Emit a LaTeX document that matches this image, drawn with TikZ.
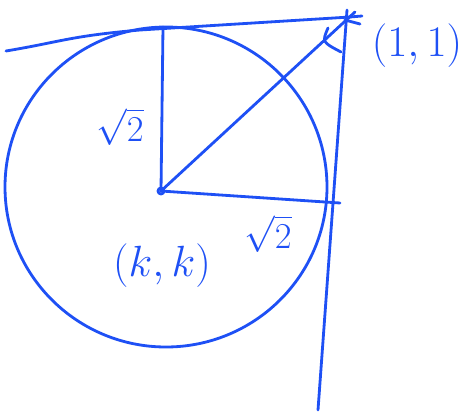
\documentclass[tikz,border=0pt]{standalone}
\usepackage{amsmath,amssymb}
\usepackage{tikz}
\usetikzlibrary{positioning,calc}
\definecolor{penblue}{RGB}{30,80,245}

\begin{document}
\begin{tikzpicture}[x=0.02cm, y=-0.02cm,
  pen/.style={draw=penblue, line width=1.6pt, line cap=round, line join=round},
  lbl/.style={text=penblue, inner sep=0pt, font=\fontsize{20}{22}\selectfont},
  biglbl/.style={text=penblue, inner sep=0pt, font=\fontsize{30}{32}\selectfont}
]
\useasboundingbox (0,0) rectangle (470,413);

% ======= points =======
\coordinate (ctr) at (161,191);
\coordinate (top) at (163,27);
\coordinate (rgt) at (340,203);
\coordinate (crn) at (350,17);
\coordinate (tlft) at (6,51);
\coordinate (vtop) at (347,10);
\coordinate (vbot) at (318,410);

% ======= circle =======
\draw[pen] (166,187) ellipse [x radius=161, y radius=160];

% ======= tangent lines =======
\draw[pen] (tlft) .. controls (60,42) and (70,36) .. (140,30) -- (crn) -- (362,16);
\draw[pen] (vtop) -- (vbot);

% ======= radii =======
\draw[pen] (top) -- (ctr);
\draw[pen] (ctr) -- (rgt);
\draw[pen] (ctr) -- (355,12);
\draw[pen] (ctr) circle [radius=3];
\draw[pen] (345,20) -- (360,24);

% ======= angle mark =======
\draw[pen] (328,28) .. controls (322,42) .. (341,52);

% ======= labels =======
\node[lbl] (r1) at (120,127) {$\sqrt{2}$};
\node[lbl] (r2) at (268,234) {$\sqrt{2}$};
\node[biglbl] (cc) at (162,266) {$(k,k)$};
\node[biglbl] (pt) at (417,46) {$(1,1)$};

\end{tikzpicture}
\end{document}
